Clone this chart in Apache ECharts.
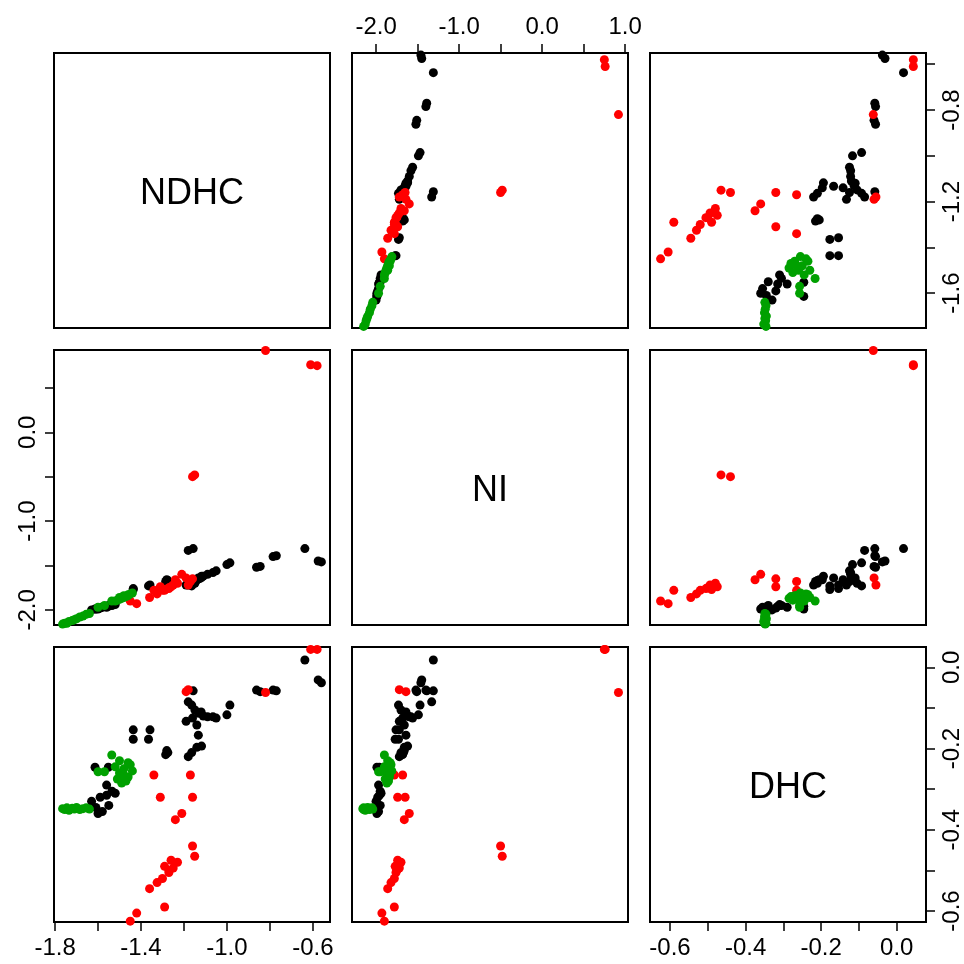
<!DOCTYPE html>
<html>
<head>
<meta charset="utf-8">
<script src="https://cdn.jsdelivr.net/npm/echarts@6/dist/echarts.min.js"></script>
<style>
  html, body { margin: 0; padding: 0; background: #fff; }
  #chart { width: 964px; height: 964px; }
</style>
</head>
<body>
<div id="chart"></div>
<script>
// variables of the pairs plot
const varNames = ['NDHC', 'NI', 'DHC'];

// black group
const blackNDHC = [-0.637, -0.575, -0.56, -0.862, -0.845, -0.785, -0.77, -1.157, -1.18, -1.164, -1.149,
  -0.986, -1.0, -1.19, -1.16, -1.13, -1.11, -1.09, -1.065, -1.05, -1.14, -1.12, -1.133, -1.118, -1.14,
  -1.164, -1.18, -1.436, -1.436, -1.358, -1.365, -1.28, -1.275, -1.285, -1.614, -1.552, -1.56,
  -1.63, -1.61, -1.59, -1.56, -1.535, -1.52, -1.60, -1.58, -1.55];
const blackNI = [-1.31, -1.45, -1.46, -1.52, -1.51, -1.40, -1.39, -1.31, -1.33, -1.73, -1.70,
  -1.47, -1.49, -1.72, -1.68, -1.65, -1.62, -1.60, -1.58, -1.56, -1.66, -1.64, -1.64, -1.62, -1.66,
  -1.70, -1.72, -1.76, -1.77, -1.72, -1.73, -1.66, -1.67, -1.68, -1.99, -1.96, -1.97,
  -2.00, -1.99, -1.98, -1.96, -1.95, -1.94, -1.99, -1.97, -1.95];
const blackDHC = [0.018, -0.031, -0.038, -0.056, -0.060, -0.056, -0.058, -0.058, -0.085, -0.093, -0.105,
  -0.093, -0.117, -0.133, -0.125, -0.113, -0.120, -0.122, -0.122, -0.125, -0.142, -0.110, -0.167, -0.194, -0.197,
  -0.210, -0.220, -0.154, -0.177, -0.154, -0.177, -0.205, -0.210, -0.215, -0.246, -0.246, -0.290,
  -0.330, -0.345, -0.320, -0.315, -0.305, -0.310, -0.360, -0.355, -0.340];

// red group
const redNDHC = [-1.45, -1.42, -1.29, -1.36, -1.325, -1.30, -1.27, -1.25, -1.23, -1.29, -1.26, -1.27,
  -1.16, -1.15, -1.24, -1.21, -1.31, -1.16, -1.34, -1.17, -1.19, -1.18, -0.82, -0.61, -0.58];
const redNI = [-1.90, -1.93, -1.78, -1.86, -1.82, -1.78, -1.76, -1.72, -1.70, -1.77, -1.74, -1.75,
  -0.50, -0.48, -1.66, -1.60, -1.74, -1.65, -1.78, -1.68, -1.64, -1.72, 0.92, 0.76, 0.75];
const redDHC = [-0.625, -0.605, -0.590, -0.545, -0.530, -0.520, -0.505, -0.494, -0.480, -0.490, -0.475, -0.500,
  -0.440, -0.465, -0.375, -0.360, -0.320, -0.320, -0.265, -0.265, -0.060, -0.055, -0.062, 0.044, 0.044];

// green group
const greenNDHC = [-1.765, -1.755, -1.745, -1.735, -1.72, -1.71, -1.70, -1.685, -1.67, -1.655, -1.64,
  -1.60, -1.57, -1.536, -1.52, -1.50, -1.48, -1.46, -1.45, -1.47, -1.49, -1.51, -1.44, -1.46, -1.50, -1.48];
const greenNI = [-2.16, -2.15, -2.15, -2.13, -2.12, -2.11, -2.10, -2.08, -2.07, -2.05, -2.04,
  -1.97, -1.95, -1.90, -1.90, -1.88, -1.86, -1.84, -1.82, -1.85, -1.87, -1.89, -1.81, -1.83, -1.86, -1.84];
const greenDHC = [-0.348, -0.350, -0.346, -0.352, -0.347, -0.349, -0.345, -0.350, -0.348, -0.346, -0.349,
  -0.257, -0.257, -0.216, -0.245, -0.260, -0.250, -0.270, -0.240, -0.280, -0.285, -0.275, -0.255, -0.235, -0.230, -0.265];

// tick marks and labels (columns = x axes, rows = y axes)
const colTicks = [[-1.8, -1.6, -1.4, -1.2, -1.0, -0.8, -0.6], [-2.0, -1.5, -1.0, -0.5, 0.0, 0.5, 1.0],
  [-0.6, -0.5, -0.4, -0.3, -0.2, -0.1, 0.0]];
const colLabels = [[-1.8, -1.4, -1.0, -0.6], [-2.0, -1.0, 0.0, 1.0], [-0.6, -0.4, -0.2, 0.0]];
const rowTicks = [[-1.6, -1.4, -1.2, -1.0, -0.8, -0.6], [-2.0, -1.5, -1.0, -0.5, 0.0, 0.5],
  [-0.6, -0.5, -0.4, -0.3, -0.2, -0.1, 0.0]];
const rowLabels = [[-1.6, -1.2, -0.8], [-2.0, -1.0, 0.0], [-0.6, -0.4, -0.2, 0.0]];

const groups = [
  { color: '#000000', cols: [blackNDHC, blackNI, blackDHC] },
  { color: '#ff0000', cols: [redNDHC, redNI, redDHC] },
  { color: '#00a000', cols: [greenNDHC, greenNI, greenDHC] },
];

// axis extents as drawn
const xRanges = [[-1.805, -0.52], [-2.29, 1.035], [-0.653, 0.0775]];
const yRanges = [[-1.752, -0.551], [-2.17, 0.926], [-0.627, 0.05]];

const colLeft = [54, 352, 650];
const rowTop = [53, 350, 647];
const panelW = 276;
const panelH = 275;
const font = "'Liberation Sans', Arial, sans-serif";

const chart = echarts.init(document.getElementById('chart'));

const grids = [];
const xAxes = [];
const yAxes = [];
const series = [];
const graphics = [];
const fmt = (v) => Number(v).toFixed(1);

for (let r = 0; r < 3; r++) {
  for (let c = 0; c < 3; c++) {
    const idx = r * 3 + c;
    grids.push({
      left: colLeft[c], top: rowTop[r], width: panelW, height: panelH,
      show: true, borderColor: '#000', borderWidth: 2, backgroundColor: 'transparent',
    });

    const showX = (c === 1 && r === 0) || (c !== 1 && r === 2);
    const showY = (r === 1 && c === 0) || (r !== 1 && c === 2);

    xAxes.push({
      type: 'value', gridIndex: idx,
      min: xRanges[c][0], max: xRanges[c][1],
      position: c === 1 ? 'top' : 'bottom',
      axisLine: { show: false, onZero: false },
      splitLine: { show: false },
      axisTick: { show: showX, length: 9, customValues: colTicks[c], lineStyle: { color: '#000', width: 1.5 } },
      axisLabel: {
        show: showX, customValues: colLabels[c], formatter: fmt,
        margin: 14, color: '#000', fontSize: 24, fontFamily: font,
      },
    });

    yAxes.push({
      type: 'value', gridIndex: idx,
      min: yRanges[r][0], max: yRanges[r][1],
      position: c === 0 ? 'left' : 'right',
      axisLine: { show: false, onZero: false },
      splitLine: { show: false },
      axisTick: { show: showY, length: 9, customValues: rowTicks[r], lineStyle: { color: '#000', width: 1.5 } },
      axisLabel: {
        show: showY, customValues: rowLabels[r], formatter: fmt, rotate: 90,
        margin: 14, color: '#000', fontSize: 24, fontFamily: font,
      },
    });

    if (r === c) {
      graphics.push({
        type: 'text',
        x: colLeft[c] + panelW / 2,
        y: rowTop[r] + panelH / 2 + 4,
        style: {
          text: varNames[r], fill: '#000', font: '36px ' + font,
          textAlign: 'center', textVerticalAlign: 'middle',
        },
      });
      continue;
    }

    groups.forEach((g) => {
      const xs = g.cols[c];
      const ys = g.cols[r];
      series.push({
        type: 'scatter',
        xAxisIndex: idx, yAxisIndex: idx,
        symbol: 'circle', symbolSize: 9,
        itemStyle: { color: g.color, opacity: 1 },
        silent: true,
        data: xs.map((v, i) => [v, ys[i]]),
      });
    });
  }
}

chart.setOption({
  animation: false,
  backgroundColor: '#fff',
  grid: grids,
  xAxis: xAxes,
  yAxis: yAxes,
  series: series,
  graphic: graphics,
});
</script>
</body>
</html>
